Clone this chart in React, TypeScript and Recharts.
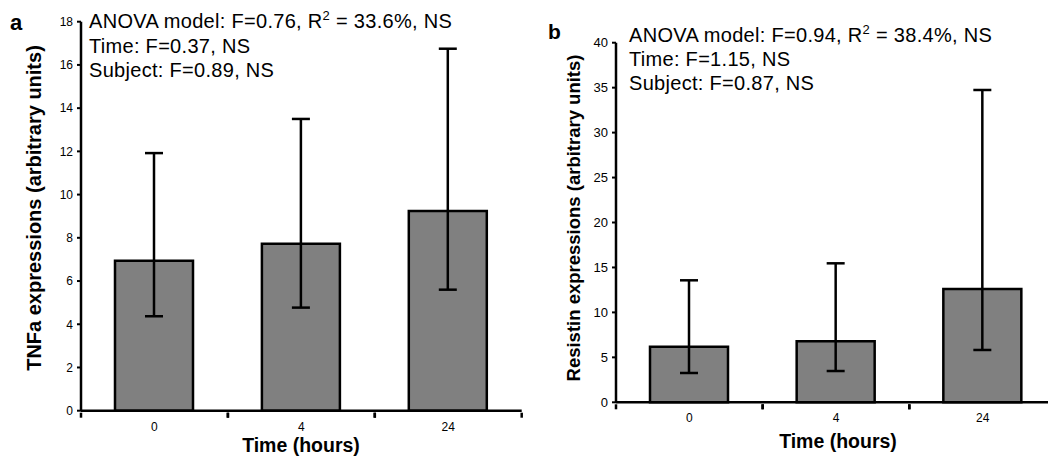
import React from "react";
import { BarChart, Bar, XAxis, YAxis, ErrorBar } from "recharts";

const times = ["0", "4", "24"];

// panel a: TNFa
const tnfMean = [6.94, 7.73, 9.24];
const tnfLow = [4.37, 4.77, 5.6];
const tnfHigh = [11.92, 13.5, 16.75];
const tnfTicks = [0, 2, 4, 6, 8, 10, 12, 14, 16, 18];

// panel b: Resistin
const resMean = [6.18, 6.78, 12.6];
const resLow = [3.26, 3.48, 5.82];
const resHigh = [13.57, 15.46, 34.74];
const resTicks = [0, 5, 10, 15, 20, 25, 30, 35, 40];

const FONT = "'Liberation Sans', Arial, Helvetica, sans-serif";

function rows(mean: number[], low: number[], high: number[]) {
  return times.map((t, i) => ({
    time: t,
    mean: mean[i],
    err: [mean[i] - low[i], high[i] - mean[i]],
  }));
}

// tick label at band centre, tick marks on band edges
function EdgeTick(props: any) {
  const { x, y, payload, fontSize } = props;
  const half = payload?.offset ?? 0;
  return (
    <g>
      <line x1={x - half} x2={x - half} y1={y - 6} y2={y - 1} stroke="#000" strokeWidth={2.5} />
      <line x1={x + half} x2={x + half} y1={y - 6} y2={y - 1} stroke="#000" strokeWidth={2.5} />
      <text x={x} y={y + 12} textAnchor="middle" fontSize={fontSize} fill="#000" fontFamily={FONT}>
        {payload.value}
      </text>
    </g>
  );
}

function Panel({ data, ticks, max, width, height, margin, tickFont }: any) {
  return (
    <BarChart width={width} height={height} data={data} margin={margin}>
      <XAxis
        dataKey="time"
        height={20}
        tickLine={false}
        axisLine={{ stroke: "#000", strokeWidth: 2.5 }}
        tick={<EdgeTick fontSize={12} />}
        interval={0}
      />
      <YAxis
        width={30}
        domain={[0, max]}
        ticks={ticks}
        interval={0}
        tickSize={4}
        tickMargin={4}
        axisLine={{ stroke: "#000", strokeWidth: 2.5 }}
        tickLine={{ stroke: "#000", strokeWidth: 2 }}
        tick={{ fontSize: tickFont, fill: "#000", fontFamily: FONT }}
      />
      <Bar dataKey="mean" fill="#808080" stroke="#000" strokeWidth={2.5} barSize={78} isAnimationActive={false}>
        <ErrorBar dataKey="err" direction="y" width={9} stroke="#000" strokeWidth={2.5} />
      </Bar>
    </BarChart>
  );
}

export default function App() {
  return (
    <div style={{ position: "fixed", left: 0, top: 0, width: 1048, height: 457, overflow: "hidden", background: "#fff", fontFamily: FONT }}>
      <div style={{ position: "absolute", left: 0, top: 0 }}>
        <Panel
          data={rows(tnfMean, tnfLow, tnfHigh)}
          ticks={tnfTicks}
          max={18}
          width={540}
          height={457}
          margin={{ top: 21.7, right: 18.3, bottom: 26.3, left: 51 }}
          tickFont={12}
        />
      </div>
      <div style={{ position: "absolute", left: 540, top: 0 }}>
        <Panel
          data={rows(resMean, resLow, resHigh)}
          ticks={resTicks}
          max={40}
          width={530}
          height={457}
          margin={{ top: 42.7, right: 14, bottom: 34.7, left: 46 }}
          tickFont={13}
        />
      </div>
      <svg width={1048} height={457} style={{ position: "absolute", left: 0, top: 0, pointerEvents: "none" }} fontFamily={FONT}>
        <text x={10} y={30} fontSize={22} fontWeight="bold">a</text>
        <text x={548} y={39} fontSize={21} fontWeight="bold">b</text>

        <text fontSize={20} letterSpacing={0.3} fill="#000">
          <tspan x={89} y={28}>ANOVA model: F=0.76, R</tspan>
          <tspan fontSize={13} dy={-8}>2</tspan>
          <tspan dy={8}> = 33.6%, NS</tspan>
          <tspan x={89} y={53}>Time: F=0.37, NS</tspan>
          <tspan x={89} y={77}>Subject: F=0.89, NS</tspan>
        </text>
        <text fontSize={20} letterSpacing={0.3} fill="#000">
          <tspan x={629} y={41.5}>ANOVA model: F=0.94, R</tspan>
          <tspan fontSize={13} dy={-8}>2</tspan>
          <tspan dy={8}> = 38.4%, NS</tspan>
          <tspan x={629} y={66}>Time: F=1.15, NS</tspan>
          <tspan x={629} y={90}>Subject: F=0.87, NS</tspan>
        </text>

        <text transform="translate(41,208) rotate(-90)" textAnchor="middle" fontSize={20} fontWeight="bold">
          TNFa expressions (arbitrary units)
        </text>
        <text transform="translate(580,218) rotate(-90)" textAnchor="middle" fontSize={18.5} fontWeight="bold">
          Resistin expressions (arbitrary units)
        </text>

        <text x={301} y={452} textAnchor="middle" fontSize={19.5} fontWeight="bold">Time (hours)</text>
        <text x={838} y={448} textAnchor="middle" fontSize={19.5} fontWeight="bold">Time (hours)</text>
      </svg>
    </div>
  );
}
